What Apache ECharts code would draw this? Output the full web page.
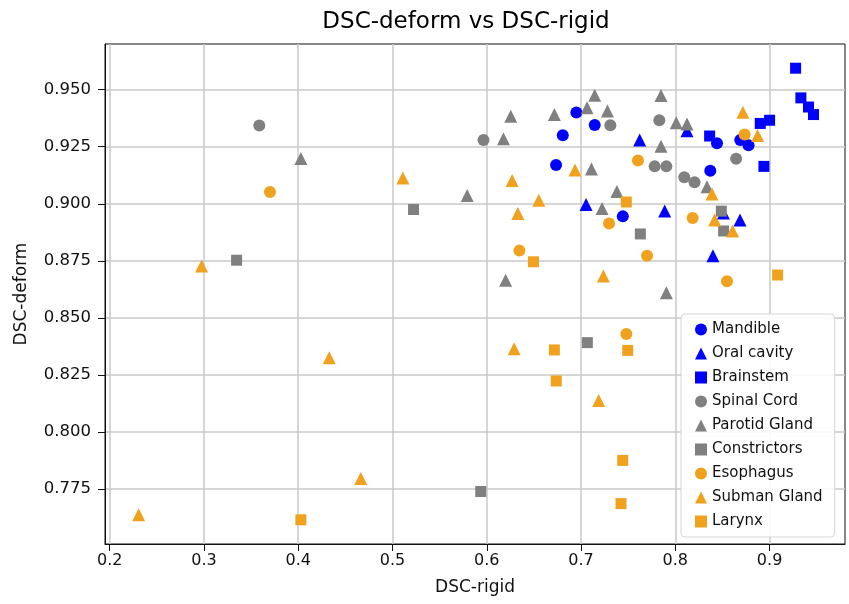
<!DOCTYPE html>
<html>
<head>
<meta charset="UTF-8">
<title>DSC-deform vs DSC-rigid</title>
<script type="text/javascript" src="https://cdn.jsdelivr.net/npm/echarts@6/dist/echarts.min.js"></script>
</head>
<body style="margin:0;">

<div id="box" style="width:849px;height:604px;"></div>

<script type="text/javascript">

// tick values
var xTicks = [0.2, 0.3, 0.4, 0.5, 0.6, 0.7, 0.8, 0.9];
var yTicks = [0.775, 0.800, 0.825, 0.850, 0.875, 0.900, 0.925, 0.950];

// [DSC-rigid, DSC-deform] per structure
var mandible = [[0.6735,0.917],[0.6806,0.930],[0.695,0.940],[0.7145,0.9345],[0.7443,0.8945],
  [0.8371,0.9145],[0.8442,0.9265],[0.8689,0.928],[0.8777,0.9256]];
var oralCavity = [[0.7053,0.8997],[0.7622,0.928],[0.7887,0.8968],[0.8124,0.932],[0.8399,0.8772],
  [0.8686,0.8929],[0.851,0.896]];
var brainstem = [[0.9276,0.9594],[0.9332,0.9464],[0.9413,0.9424],[0.9466,0.9391],[0.900,0.9366],
  [0.8901,0.9352],[0.8364,0.9297],[0.894,0.9164]];
var spinalCord = [[0.3587,0.9343],[0.5965,0.928],[0.7311,0.9344],[0.783,0.9366],[0.7781,0.9164],
  [0.7905,0.9164],[0.8095,0.9116],[0.8204,0.9094],[0.8645,0.9197]];
var parotid = [[0.4028,0.9198],[0.5792,0.9036],[0.6177,0.9285],[0.6254,0.9384],[0.6717,0.9391],
  [0.7064,0.9421],[0.7145,0.9476],[0.728,0.9406],[0.7848,0.9474],[0.801,0.9355],[0.8124,0.935],
  [0.7848,0.9252],[0.711,0.9152],[0.738,0.9054],[0.7223,0.898],[0.8336,0.9075],[0.620,0.8665],
  [0.7905,0.861]];
var constrictors = [[0.3346,0.8753],[0.5223,0.8975],[0.5936,0.774],[0.7067,0.8392],[0.7629,0.8868],
  [0.8488,0.8968],[0.8512,0.8881]];
var esophagus = [[0.370,0.9052],[0.6346,0.8795],[0.7297,0.8914],[0.7604,0.919],[0.770,0.8773],
  [0.748,0.843],[0.8184,0.8938],[0.8548,0.8661],[0.8735,0.9304]];
var submanGland = [[0.2307,0.7638],[0.2975,0.8728],[0.4329,0.8326],[0.4664,0.7797],[0.511,0.9113],
  [0.6269,0.9102],[0.6329,0.8958],[0.6551,0.9016],[0.629,0.8365],[0.6936,0.9148],[0.7237,0.8684],
  [0.7187,0.8138],[0.8389,0.9043],[0.8417,0.8929],[0.8608,0.8881],[0.8717,0.9401],[0.8873,0.9299]];
var larynx = [[0.4028,0.7616],[0.6495,0.8746],[0.6717,0.836],[0.6737,0.8224],[0.748,0.9008],
  [0.7495,0.8358],[0.7442,0.7876],[0.7424,0.7687],[0.9085,0.8688]];

var blue = '#0000ff', grey = '#808080', orange = '#f0a21e';
var font = 'DejaVu Sans';

function ser(name, data, symbol, color) {
  var size = symbol === 'circle' ? 12 : (symbol === 'triangle' ? 13 : 11);
  return {
    name: name, type: 'scatter', data: data, symbol: symbol, symbolSize: size,
    itemStyle: { color: color, opacity: 1 }
  };
}

var mychart = echarts.init(document.getElementById('box'));

var option = {
  animation: false,
  textStyle: { fontFamily: font },
  title: {
    text: 'DSC-deform vs DSC-rigid',
    left: 466, top: 11, textAlign: 'center', padding: 0,
    textStyle: { fontFamily: font, fontSize: 23, fontWeight: 'normal', color: '#000' }
  },
  grid: {
    left: 105, right: 4, top: 44, bottom: 60,
    show: true, borderColor: '#111', borderWidth: 1
  },
  legend: {
    orient: 'vertical', left: 681, top: 314,
    itemWidth: 12, itemHeight: 12, itemGap: 9,
    padding: [8, 12, 8, 14],
    backgroundColor: 'rgba(255,255,255,0.9)',
    borderColor: '#d5d5d5', borderWidth: 1, borderRadius: 4,
    textStyle: { fontFamily: font, fontSize: 15, color: '#111' },
    data: ['Mandible','Oral cavity','Brainstem','Spinal Cord','Parotid Gland','Constrictors','Esophagus','Subman Gland','Larynx']
  },
  xAxis: {
    type: 'value', min: 0.195, max: 0.98,
    name: 'DSC-rigid', nameLocation: 'middle', nameGap: 35,
    nameTextStyle: { fontFamily: font, fontSize: 17, color: '#111' },
    axisLine: { show: true, lineStyle: { color: '#111', width: 1 } },
    axisTick: { show: true, length: 7, customValues: xTicks, lineStyle: { color: '#111' } },
    axisLabel: { customValues: xTicks, fontSize: 16, color: '#111', margin: 9,
      formatter: function (v) { return v.toFixed(1); } },
    splitLine: { show: true, lineStyle: { color: '#c8c8c8', width: 1.5 } }
  },
  yAxis: {
    type: 'value', min: 0.751, max: 0.970,
    name: 'DSC-deform', nameLocation: 'middle', nameGap: 75,
    nameTextStyle: { fontFamily: font, fontSize: 17, color: '#111' },
    axisLine: { show: true, lineStyle: { color: '#111', width: 1 } },
    axisTick: { show: true, length: 7, customValues: yTicks, lineStyle: { color: '#111' } },
    axisLabel: { customValues: yTicks, fontSize: 16.5, color: '#111', margin: 14,
      formatter: function (v) { return v.toFixed(3); } },
    splitLine: { show: true, lineStyle: { color: '#c8c8c8', width: 1.5 } }
  },
  series: [
    ser('Mandible', mandible, 'circle', blue),
    ser('Oral cavity', oralCavity, 'triangle', blue),
    ser('Brainstem', brainstem, 'rect', blue),
    ser('Spinal Cord', spinalCord, 'circle', grey),
    ser('Parotid Gland', parotid, 'triangle', grey),
    ser('Constrictors', constrictors, 'rect', grey),
    ser('Esophagus', esophagus, 'circle', orange),
    ser('Subman Gland', submanGland, 'triangle', orange),
    ser('Larynx', larynx, 'rect', orange)
  ]
};

mychart.setOption(option);
</script>
</body>
</html>
